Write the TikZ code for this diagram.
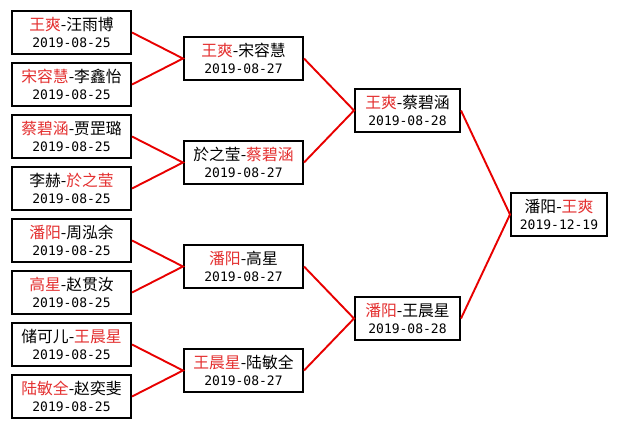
\documentclass[tikz,border=0pt]{standalone}
\usepackage{fontspec}
\setmainfont{Noto Sans CJK SC}
\newfontfamily\datefont{DejaVu Sans Mono}
\definecolor{wred}{RGB}{228,48,48}
\definecolor{lred}{RGB}{232,0,0}
\newcommand\W[1]{\textcolor{wred}{#1}}
\newcommand\D[1]{{\datefont\fontsize{13}{16}\selectfont #1}}
\begin{document}
\begin{tikzpicture}[x=1pt,y=-1pt,
  box/.style={draw=black, line width=2.4pt, rectangle, inner sep=0pt, align=center,
    font=\fontsize{15.8}{16.5}\selectfont, minimum height=42.6pt},
  r1/.style={box, minimum width=118.6pt},
  r3/.style={box, minimum width=104.6pt},
  fin/.style={box, minimum width=95.6pt},
  link/.style={draw=lred, line width=1.9pt}]
\fill[white] (0,0) rectangle (619,429);
\useasboundingbox (0,0) rectangle (619,429);
% round 1
\node[r1] (a1) at (71.5,32.5)  {\W{王爽}-汪雨博\\\D{2019-08-25}};
\node[r1] (a2) at (71.5,84.5)  {\W{宋容慧}-李鑫怡\\\D{2019-08-25}};
\node[r1] (a3) at (71.5,136.5) {\W{蔡碧涵}-贾罡璐\\\D{2019-08-25}};
\node[r1] (a4) at (71.5,188.5) {李赫-\W{於之莹}\\\D{2019-08-25}};
\node[r1] (a5) at (71.5,240.5) {\W{潘阳}-周泓余\\\D{2019-08-25}};
\node[r1] (a6) at (71.5,292.5) {\W{高星}-赵贯汝\\\D{2019-08-25}};
\node[r1] (a7) at (71.5,344.5) {储可儿-\W{王晨星}\\\D{2019-08-25}};
\node[r1] (a8) at (71.5,396.5) {\W{陆敏全}-赵奕斐\\\D{2019-08-25}};
% round 2
\node[r1] (b1) at (243.5,58.5)  {\W{王爽}-宋容慧\\\D{2019-08-27}};
\node[r1] (b2) at (243.5,162.5) {於之莹-\W{蔡碧涵}\\\D{2019-08-27}};
\node[r1] (b3) at (243.5,266.5) {\W{潘阳}-高星\\\D{2019-08-27}};
\node[r1] (b4) at (243.5,370.5) {\W{王晨星}-陆敏全\\\D{2019-08-27}};
% round 3
\node[r3] (c1) at (407.5,110.5) {\W{王爽}-蔡碧涵\\\D{2019-08-28}};
\node[r3] (c2) at (407.5,318.5) {\W{潘阳}-王晨星\\\D{2019-08-28}};
% final
\node[fin] (f) at (559,214.5) {潘阳-\W{王爽}\\\D{2019-12-19}};
% connectors
\draw[link] (a1.east) -- (b1.west) -- (a2.east);
\draw[link] (a3.east) -- (b2.west) -- (a4.east);
\draw[link] (a5.east) -- (b3.west) -- (a6.east);
\draw[link] (a7.east) -- (b4.west) -- (a8.east);
\draw[link] (b1.east) -- (c1.west) -- (b2.east);
\draw[link] (b3.east) -- (c2.west) -- (b4.east);
\draw[link] (c1.east) -- (f.west) -- (c2.east);
\end{tikzpicture}
\end{document}
